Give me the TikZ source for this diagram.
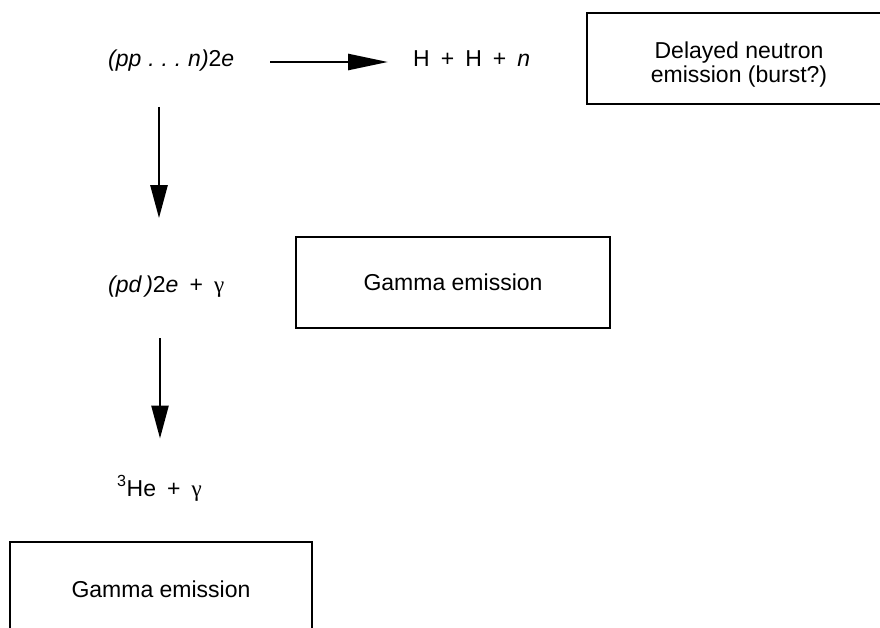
\documentclass[tikz,border=0pt]{standalone}
\usepackage{fontspec}
\setmainfont{Liberation Sans}
\newfontfamily\grk{Liberation Serif}
\usetikzlibrary{arrows.meta,calc}
\newcommand{\opsp}{\hspace{0.48em}}
\newcommand{\dsp}{\hspace{0.3em}}
\newcommand{\gam}{{\grk γ}}
\tikzset{
  lbl/.style={inner sep=0pt, font=\fontsize{23}{23}\selectfont},
  boxnode/.style={draw, line width=1.8pt, inner sep=0pt, align=center, font=\fontsize{23}{24}\selectfont},
  arr/.style={line width=2.6pt, -{Triangle[length=33pt,width=17pt]}},
  harr/.style={line width=2.6pt, -{Triangle[length=40pt,width=16pt]}}
}
\begin{document}
\begin{tikzpicture}[x=1pt,y=-1pt]
\useasboundingbox (0,0) rectangle (880,628);
% helper coordinates for connector lines
\coordinate (cx1) at (159,0);
\coordinate (cx2) at (160,0);
\coordinate (cy1) at (0,62);
% text nodes
\node[lbl, anchor=base west] (pp) at (108,67) {\itshape (pp\dsp.\dsp.\dsp.\dsp n)\upshape2\itshape e};
\node[lbl, anchor=base west] (hhn) at (413,67) {H\opsp+\opsp H\opsp+\opsp\itshape n};
\node[lbl, anchor=base west] (pd) at (108,292) {\itshape (pd\,)\upshape2\itshape e\upshape\opsp+\opsp\gam};
\node[lbl, anchor=base west] (he) at (117,496) {\textsuperscript{3}He\opsp+\opsp\gam};
% boxes
\node[boxnode, minimum width=304pt, minimum height=91pt] (delay) at (739,58.5) {\raisebox{-24pt}[0pt][0pt]{\shortstack{Delayed neutron\\emission (burst?)}}};
\node[boxnode, minimum width=314pt, minimum height=91pt] (gam1) at (453,282.5) {Gamma emission};
\node[boxnode, minimum width=302pt, minimum height=94pt] (gam2) at (161,589) {Gamma emission};
% arrows
\draw[harr] ($(pp.east |- cy1)+(36,0)$) -- ($(hhn.west |- cy1)+(-25,0)$);
\draw[arr] ($(pp.south -| cx1)+(0,35)$) -- ($(pd.north -| cx1)+(0,-57)$);
\draw[arr] ($(pd.south -| cx2)+(0,41)$) -- ($(he.north -| cx2)+(0,-37)$);
\end{tikzpicture}
\end{document}
